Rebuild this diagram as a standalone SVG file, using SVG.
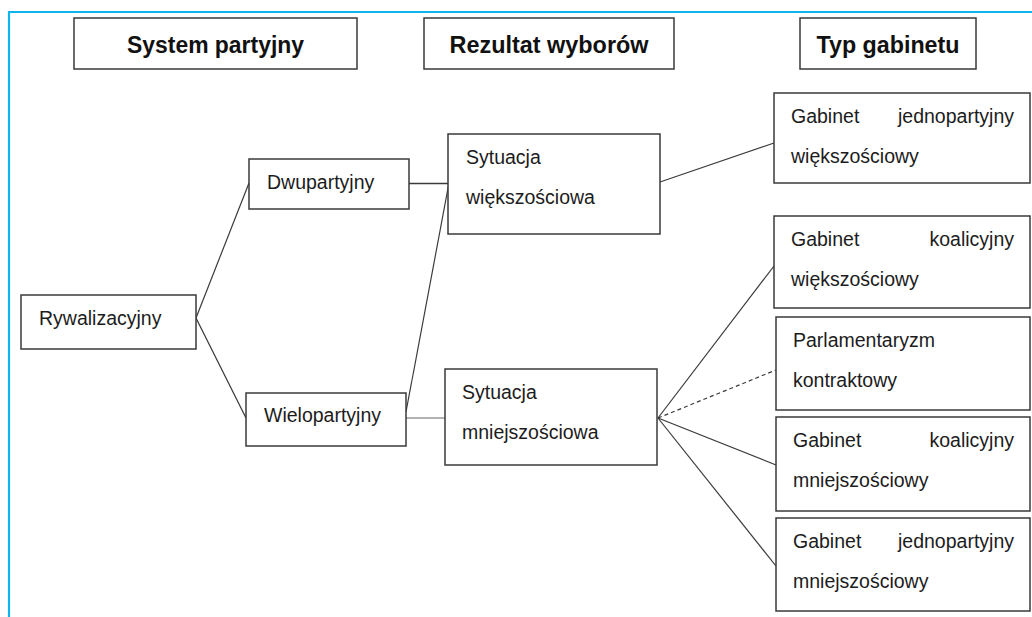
<svg xmlns="http://www.w3.org/2000/svg" width="1032" height="617" viewBox="0 0 1032 617">
<style>
.box{fill:#fff;stroke:#3a3a3a;stroke-width:1.5}
.t{font-family:"Liberation Sans",Arial,sans-serif;font-size:19.5px;fill:#1c1c1c}
.h{font-family:"Liberation Sans",Arial,sans-serif;font-size:23px;font-weight:bold;fill:#111;text-anchor:middle}
.e{text-anchor:end}
.c{stroke:#3a3a3a;stroke-width:1.2;fill:none}
.g{stroke:#9a9a9a;stroke-width:1.6;fill:none}
.d{stroke:#3a3a3a;stroke-width:1.2;stroke-dasharray:4 3;fill:none}
</style>
<rect x="0" y="0" width="1032" height="617" fill="#fff"/>
<g id="frame" stroke="#0fb4ee" stroke-width="2.2" fill="none">
<line x1="9" y1="12" x2="1032" y2="12"/>
<line x1="9" y1="11" x2="9" y2="617"/>
</g>
<g id="connectors">
<line class="c" x1="196" y1="318" x2="249" y2="183"/>
<line class="c" x1="196" y1="318" x2="246" y2="418"/>
<line class="c" x1="409" y1="183.5" x2="449" y2="183.5" style="stroke-width:1.4"/>
<line class="c" x1="406" y1="412" x2="449" y2="183"/>
<line class="g" x1="406" y1="418" x2="445" y2="418"/>
<line class="c" x1="660" y1="182" x2="774" y2="143"/>
<line class="c" x1="658" y1="418" x2="774" y2="266"/>
<line class="d" x1="658" y1="418" x2="776" y2="370"/>
<line class="c" x1="658" y1="418" x2="776" y2="465"/>
<line class="c" x1="658" y1="418" x2="776" y2="566"/>
</g>
<g id="hdr-system">
<rect class="box" x="74" y="18" width="283" height="51"/>
<text class="h" x="215.5" y="53" textLength="177" lengthAdjust="spacingAndGlyphs">System partyjny</text>
</g>
<g id="hdr-rezultat">
<rect class="box" x="424" y="18" width="250" height="51"/>
<text class="h" x="549" y="53" textLength="199" lengthAdjust="spacingAndGlyphs">Rezultat wyborów</text>
</g>
<g id="hdr-typ">
<rect class="box" x="800" y="18" width="176" height="51"/>
<text class="h" x="888" y="53" textLength="143" lengthAdjust="spacingAndGlyphs">Typ gabinetu</text>
</g>
<g id="rywalizacyjny">
<rect class="box" x="21" y="295" width="175" height="54"/>
<text class="t" x="39" y="325">Rywalizacyjny</text>
</g>
<g id="dwupartyjny">
<rect class="box" x="249" y="159" width="160" height="50"/>
<text class="t" x="267" y="189">Dwupartyjny</text>
</g>
<g id="wielopartyjny">
<rect class="box" x="246" y="393" width="160" height="53"/>
<text class="t" x="264" y="422">Wielopartyjny</text>
</g>
<g id="sytuacja-wiekszosciowa">
<rect class="box" x="448" y="134" width="212" height="100"/>
<text class="t" x="466" y="164">Sytuacja</text>
<text class="t" x="466" y="204">większościowa</text>
</g>
<g id="sytuacja-mniejszosciowa">
<rect class="box" x="445" y="369" width="212" height="96"/>
<text class="t" x="462" y="399">Sytuacja</text>
<text class="t" x="462" y="439">mniejszościowa</text>
</g>
<g id="gab-jedno-wiek">
<rect class="box" x="774" y="93" width="256" height="90"/>
<text class="t" x="791" y="123">Gabinet</text>
<text class="t e" x="1014" y="123">jednopartyjny</text>
<text class="t" x="791" y="163">większościowy</text>
</g>
<g id="gab-koal-wiek">
<rect class="box" x="774" y="216" width="256" height="92"/>
<text class="t" x="791" y="246">Gabinet</text>
<text class="t e" x="1014" y="246">koalicyjny</text>
<text class="t" x="791" y="286">większościowy</text>
</g>
<g id="parlamentaryzm">
<rect class="box" x="776" y="317" width="254" height="93"/>
<text class="t" x="793" y="347">Parlamentaryzm</text>
<text class="t" x="793" y="387">kontraktowy</text>
</g>
<g id="gab-koal-mniej">
<rect class="box" x="776" y="417" width="254" height="94"/>
<text class="t" x="793" y="447">Gabinet</text>
<text class="t e" x="1014" y="447">koalicyjny</text>
<text class="t" x="793" y="487">mniejszościowy</text>
</g>
<g id="gab-jedno-mniej">
<rect class="box" x="776" y="518" width="254" height="93"/>
<text class="t" x="793" y="548">Gabinet</text>
<text class="t e" x="1014" y="548">jednopartyjny</text>
<text class="t" x="793" y="588">mniejszościowy</text>
</g>
</svg>
